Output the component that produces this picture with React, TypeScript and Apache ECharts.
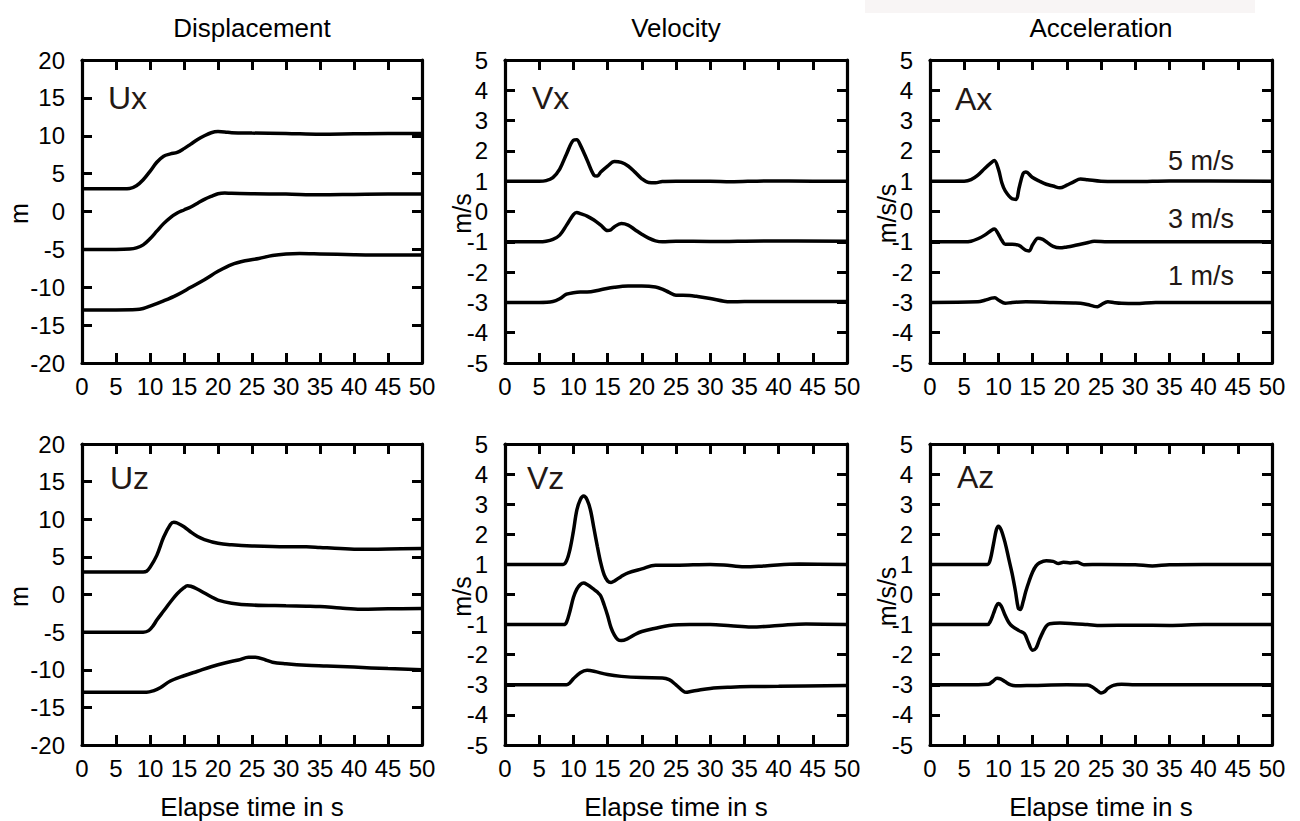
import React, { useEffect, useRef } from "react";
import * as echarts from "echarts";

// ---------- data (time in s, value) ----------
const TIME_TICKS = [0, 5, 10, 15, 20, 25, 30, 35, 40, 45, 50];
const COLUMN_TITLES = ["Displacement", "Velocity", "Acceleration"];
const PANEL_NAMES = ["Ux", "Vx", "Ax", "Uz", "Vz", "Az"];
const UNIT_NAMES = ["m", "m/s", "m/s/s", "m", "m/s", "m/s/s"];
const SPEED_LABELS = ["5 m/s", "3 m/s", "1 m/s"];
const X_NAME = "Elapse time in s";

const ux1: [number, number][] = [[0,3],[5,3],[7,3.05],[8,3.4],[9,4.2],[10,5.3],[11,6.5],[12,7.3],[13,7.6],[14,7.8],[15,8.3],[16,8.9],[17,9.5],[18,10.0],[19,10.4],[20,10.55],[21,10.5],[22,10.4],[25,10.35],[30,10.3],[35,10.2],[40,10.25],[45,10.3],[50,10.3]];
const ux2: [number, number][] = [[0,-5],[5,-5],[7,-4.95],[8,-4.8],[9,-4.4],[10,-3.6],[11,-2.6],[12,-1.6],[13,-0.8],[14,-0.2],[15,0.2],[16,0.6],[17,1.1],[18,1.6],[19,2.0],[20,2.35],[21,2.45],[22,2.4],[25,2.35],[30,2.3],[35,2.2],[40,2.25],[45,2.3],[50,2.3]];
const ux3: [number, number][] = [[0,-13],[5,-13],[8,-12.95],[9,-12.8],[10,-12.5],[12,-11.8],[14,-11.0],[16,-10.0],[18,-9.0],[20,-7.9],[22,-7.0],[24,-6.5],[26,-6.2],[28,-5.8],[30,-5.6],[32,-5.55],[35,-5.6],[40,-5.7],[45,-5.75],[50,-5.75]];

const vx1: [number, number][] = [[0,1],[5,1],[6,1.02],[7,1.12],[8,1.4],[9,1.9],[10,2.35],[10.5,2.37],[11,2.2],[12,1.7],[13,1.2],[13.5,1.17],[14,1.3],[15,1.5],[16,1.65],[17,1.62],[18,1.5],[19,1.3],[20,1.08],[21,0.96],[22,0.95],[23,0.99],[25,1.0],[30,1.0],[33,0.98],[38,1.01],[45,1.0],[50,1.0]];
const vx2: [number, number][] = [[0,-1],[5,-1],[6,-0.98],[7,-0.92],[8,-0.78],[9,-0.45],[10,-0.1],[10.5,-0.03],[11,-0.07],[12,-0.15],[13,-0.28],[14,-0.45],[15,-0.63],[15.5,-0.6],[16,-0.5],[17,-0.4],[18,-0.45],[19,-0.6],[20,-0.75],[21,-0.88],[22,-0.97],[23,-1.0],[25,-0.98],[30,-0.99],[38,-0.97],[50,-0.98]];
const vx3: [number, number][] = [[0,-3],[5,-3],[7,-2.97],[8,-2.88],[9,-2.73],[10,-2.68],[11,-2.66],[12,-2.66],[14,-2.58],[16,-2.5],[18,-2.46],[20,-2.46],[22,-2.49],[23,-2.56],[24,-2.67],[25,-2.76],[26,-2.76],[27,-2.77],[28,-2.8],[30,-2.87],[32,-2.96],[33,-2.98],[35,-2.97],[50,-2.97]];

const ax1: [number, number][] = [[0,1],[5,1],[6,1.05],[7,1.2],[8,1.42],[9,1.62],[9.4,1.68],[10,1.4],[10.5,0.95],[11,0.68],[12,0.42],[12.6,0.4],[13,0.75],[13.6,1.25],[14,1.3],[15,1.12],[16,1.0],[17,0.9],[18,0.84],[19,0.78],[20,0.87],[21,0.98],[22,1.07],[23,1.05],[25,1.0],[30,0.99],[35,1.01],[50,1.0]];
const ax2: [number, number][] = [[0,-1],[5,-1],[6,-0.98],[7,-0.9],[8,-0.78],[9,-0.62],[9.4,-0.58],[10,-0.75],[10.5,-0.95],[11,-1.08],[12,-1.08],[13,-1.12],[14,-1.28],[14.5,-1.3],[15,-1.1],[15.8,-0.88],[16.5,-0.92],[17,-1.0],[18,-1.15],[19,-1.2],[20,-1.17],[21,-1.13],[22,-1.08],[23,-1.03],[24,-0.98],[26,-1.0],[30,-1.0],[50,-1.0]];
const ax3: [number, number][] = [[0,-3],[7,-2.98],[8,-2.93],[9,-2.86],[9.5,-2.85],[10,-2.92],[11,-3.03],[12,-3.0],[14,-2.98],[18,-3.0],[21,-3.02],[22,-3.03],[23,-3.07],[24,-3.13],[24.5,-3.14],[25,-3.08],[26,-2.98],[27,-3.01],[28,-3.03],[30,-3.04],[33,-3.0],[50,-3.0]];

const uz1: [number, number][] = [[0,3],[5,3],[9,3.0],[9.5,3.1],[10,3.6],[11,5.2],[12,7.6],[13,9.3],[13.5,9.6],[14,9.5],[15,9.0],[16,8.3],[17,7.7],[18,7.3],[20,6.8],[22,6.6],[25,6.45],[30,6.35],[33,6.35],[35,6.25],[38,6.1],[41,6.0],[45,6.05],[50,6.1]];
const uz2: [number, number][] = [[0,-5],[5,-5],[9,-5.0],[9.8,-4.8],[10.5,-4.1],[11,-3.4],[12,-2.2],[13,-1.0],[14,0.1],[15,0.9],[15.5,1.15],[16,1.1],[17,0.7],[18,0.2],[19,-0.3],[20,-0.75],[22,-1.15],[25,-1.4],[30,-1.5],[33,-1.55],[35,-1.6],[38,-1.8],[41,-1.95],[45,-1.9],[50,-1.85]];
const uz3: [number, number][] = [[0,-13],[5,-13],[9.5,-13],[10.5,-12.8],[11.5,-12.4],[13,-11.5],[15,-10.8],[17,-10.2],[19,-9.6],[21,-9.1],[23,-8.7],[24.5,-8.35],[25.5,-8.35],[27,-8.7],[28,-9.0],[30,-9.2],[33,-9.4],[36,-9.5],[40,-9.65],[45,-9.85],[50,-10.0]];

const vz1: [number, number][] = [[0,1],[5,1],[8.5,1.0],[9,1.12],[9.5,1.5],[10,2.1],[10.5,2.8],[11,3.15],[11.5,3.27],[12,3.15],[12.5,2.8],[13,2.2],[13.5,1.6],[14,1.05],[14.5,0.65],[15,0.45],[15.5,0.4],[16,0.45],[17,0.6],[18,0.72],[20,0.85],[22,0.97],[25,0.97],[30,1.0],[32,0.98],[35,0.92],[38,0.95],[43,1.01],[50,1.0]];
const vz2: [number, number][] = [[0,-1],[5,-1],[8.6,-1],[9,-0.92],[9.5,-0.55],[10,-0.1],[10.5,0.18],[11,0.33],[11.5,0.38],[12,0.33],[13,0.17],[13.5,0.08],[14,-0.05],[14.5,-0.35],[15,-0.7],[15.5,-1.1],[16,-1.35],[16.5,-1.5],[17,-1.53],[18,-1.46],[19,-1.33],[20,-1.23],[22,-1.12],[24,-1.03],[27,-1.0],[30,-1.0],[33,-1.04],[36,-1.08],[40,-1.03],[44,-0.98],[50,-1.0]];
const vz3: [number, number][] = [[0,-3],[5,-3],[9,-3.0],[9.5,-2.93],[10,-2.8],[11,-2.6],[12,-2.52],[13,-2.55],[15,-2.66],[17,-2.72],[20,-2.76],[23,-2.77],[24,-2.83],[25,-3.0],[26,-3.2],[26.5,-3.25],[27,-3.23],[28,-3.19],[30,-3.12],[33,-3.08],[36,-3.06],[40,-3.05],[50,-3.02]];

const az1: [number, number][] = [[0,1],[5,1],[8.4,1.0],[8.8,1.15],[9.3,1.7],[9.7,2.15],[10,2.27],[10.4,2.15],[11,1.7],[11.5,1.2],[12,0.7],[12.5,0.1],[12.9,-0.45],[13.2,-0.5],[13.6,-0.25],[14,0.1],[14.5,0.45],[15,0.75],[15.5,0.95],[16,1.05],[17,1.12],[18,1.1],[18.8,1.03],[19.5,1.07],[20.5,1.05],[21.5,1.07],[22.5,0.99],[25,1.0],[30,0.99],[32.5,0.95],[35,0.99],[40,1.0],[50,1.0]];
const az2: [number, number][] = [[0,-1],[5,-1],[8.4,-1.0],[8.8,-0.9],[9.3,-0.62],[9.7,-0.38],[10,-0.3],[10.4,-0.38],[11,-0.7],[11.5,-0.92],[12,-1.05],[13,-1.2],[13.8,-1.3],[14.3,-1.55],[15,-1.85],[15.5,-1.78],[16,-1.5],[16.5,-1.25],[17,-1.05],[17.5,-0.97],[19,-0.95],[21,-0.97],[23,-1.0],[25,-1.03],[30,-1.02],[35,-1.03],[40,-1.0],[50,-1.0]];
const az3: [number, number][] = [[0,-3],[5,-3],[8.5,-2.98],[9.2,-2.88],[9.8,-2.78],[10.3,-2.8],[11,-2.9],[11.8,-3.0],[12.5,-3.03],[15,-3.02],[20,-3.0],[23,-3.01],[23.8,-3.08],[24.5,-3.2],[25,-3.27],[25.5,-3.23],[26,-3.12],[26.8,-3.02],[28,-2.98],[30,-3.0],[50,-3.0]];

const PANEL_SERIES = [
  [ux1, ux2, ux3],
  [vx1, vx2, vx3],
  [ax1, ax2, ax3],
  [uz1, uz2, uz3],
  [vz1, vz2, vz3],
  [az1, az2, az3],
];
const DISP_RANGE = { min: -20, max: 20, interval: 5 };
const SMALL_RANGE = { min: -5, max: 5, interval: 1 };

// ---------- layout ----------
const FONT = '"Liberation Sans", Arial, Helvetica, sans-serif';
const COLS = [
  { left: 82, width: 340 },
  { left: 505, width: 342 },
  { left: 930, width: 342 },
];
const ROWS = [
  { top: 60, height: 303 },
  { top: 444, height: 301 },
];
const PANEL_LABEL_POS = [
  [108, 98], [532, 98], [955, 99],
  [110, 478], [527, 478], [957, 477],
];
const UNIT_X = [19, 462, 887];

function buildOption() {
  const grid: any[] = [];
  const xAxis: any[] = [];
  const yAxis: any[] = [];
  const series: any[] = [];
  const lineCol = "#000";
  for (let i = 0; i < 6; i++) {
    const col = COLS[i % 3];
    const row = ROWS[Math.floor(i / 3)];
    grid.push({ left: col.left, top: row.top, width: col.width, height: row.height, containLabel: false });
    const range = i % 3 === 0 ? DISP_RANGE : SMALL_RANGE;
    const common = {
      type: "value",
      gridIndex: i,
      axisLine: { show: true, onZero: false, lineStyle: { color: lineCol, width: 3.2 } },
      axisTick: { show: true, inside: true, length: 10, lineStyle: { color: lineCol, width: 3 } },
      splitLine: { show: false },
    };
    xAxis.push({
      ...common,
      position: "bottom",
      min: TIME_TICKS[0],
      max: TIME_TICKS[TIME_TICKS.length - 1],
      interval: 5,
      axisLabel: { show: true, margin: 11, color: "#000", fontSize: 24, fontFamily: FONT },
    });
    xAxis.push({ ...common, position: "top", min: 0, max: 50, interval: 5, axisLabel: { show: false } });
    yAxis.push({
      ...common,
      position: "left",
      min: range.min,
      max: range.max,
      interval: range.interval,
      axisLabel: { show: true, margin: 17, color: "#000", fontSize: 24, fontFamily: FONT },
    });
    yAxis.push({ ...common, position: "right", min: range.min, max: range.max, interval: range.interval, axisLabel: { show: false } });
    PANEL_SERIES[i].forEach((d) => {
      series.push({
        type: "line",
        xAxisIndex: 2 * i,
        yAxisIndex: 2 * i,
        data: d,
        showSymbol: false,
        smooth: 0.35,
        lineStyle: { color: "#000", width: 3.5 },
        silent: true,
      });
    });
  }

  const graphic: any[] = [];
  graphic.push({ type: "rect", shape: { x: 865, y: 0, width: 390, height: 13 }, style: { fill: "#f8f5f5" }, silent: true });
  COLUMN_TITLES.forEach((t, c) => {
    graphic.push({
      type: "text",
      x: COLS[c].left + COLS[c].width / 2,
      y: 28,
      style: { text: t, fill: "#000", fontSize: 26, fontFamily: FONT, align: "center", verticalAlign: "middle" },
    });
    graphic.push({
      type: "text",
      x: COLS[c].left + COLS[c].width / 2,
      y: 807,
      style: { text: X_NAME, fill: "#000", fontSize: 26, fontFamily: FONT, align: "center", verticalAlign: "middle" },
    });
  });
  for (let i = 0; i < 6; i++) {
    const row = ROWS[Math.floor(i / 3)];
    graphic.push({
      type: "text",
      x: UNIT_X[i % 3],
      y: row.top + row.height / 2 + 2,
      rotation: Math.PI / 2,
      style: { text: UNIT_NAMES[i], fill: "#000", fontSize: 25, fontFamily: FONT, align: "center", verticalAlign: "middle" },
    });
    graphic.push({
      type: "text",
      x: PANEL_LABEL_POS[i][0],
      y: PANEL_LABEL_POS[i][1],
      style: { text: PANEL_NAMES[i], fill: "#231815", fontSize: 32, fontFamily: FONT, align: "left", verticalAlign: "middle" },
    });
  }
  const speedY = [161, 219, 276];
  SPEED_LABELS.forEach((s, k) => {
    graphic.push({
      type: "text",
      x: 1234,
      y: speedY[k],
      style: { text: s, fill: "#231815", fontSize: 27, fontFamily: FONT, align: "right", verticalAlign: "middle" },
    });
  });

  return {
    animation: false,
    backgroundColor: "#fff",
    grid,
    xAxis,
    yAxis,
    series,
    graphic,
  };
}

export default function App() {
  const ref = useRef<HTMLDivElement>(null);
  useEffect(() => {
    if (!ref.current) return;
    const chart = echarts.init(ref.current, null, { renderer: "svg" });
    chart.setOption(buildOption());
    return () => chart.dispose();
  }, []);
  return (
    <div
      ref={ref}
      style={{ position: "absolute", left: 0, top: 0, width: 1300, height: 821, background: "#fff" }}
    />
  );
}
